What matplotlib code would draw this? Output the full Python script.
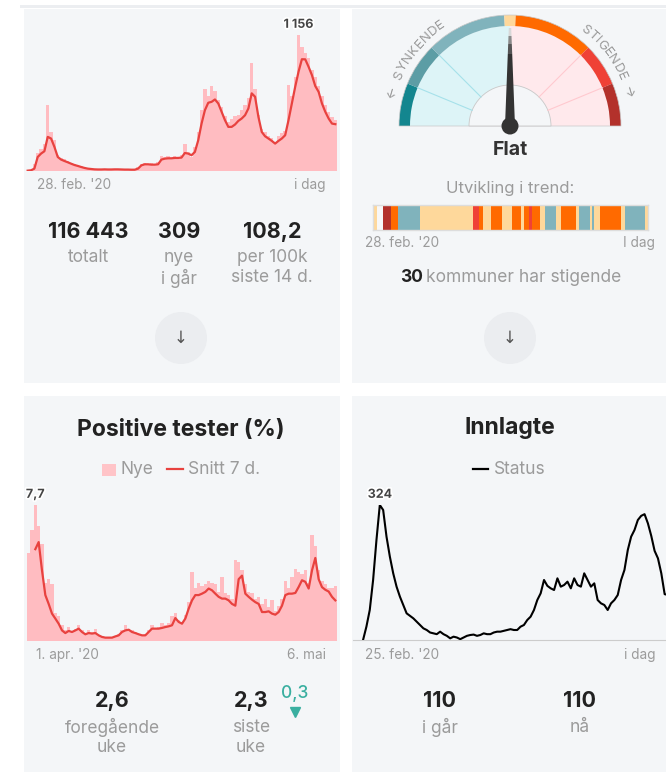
import matplotlib.pyplot as plt
import matplotlib.patheffects as pe
from matplotlib.patches import Rectangle, Wedge, Circle, Polygon
from matplotlib.textpath import TextPath
from matplotlib.font_manager import FontProperties
import numpy as np

plt.rcParams['font.family'] = ['Inter', 'DejaVu Sans']

W, H = 666, 773

# ---- data: bekreftede tilfeller (ca. hver 3. dag) ----
cases = [2, 10, 60, 150, 190, 230, 560, 330, 260, 140, 110, 100, 85, 70, 60, 45, 40, 30,
         22, 20, 15, 18, 12, 16, 14, 10, 17, 15, 12, 14, 10, 13, 15, 35, 60, 70, 50, 65,
         48, 80, 130, 115, 125, 100, 130, 105, 140, 230, 160, 120, 200, 330, 520, 700,
         640, 720, 680, 600, 540, 470, 420, 440, 470, 480, 520, 560, 620, 915, 700, 480,
         360, 330, 300, 280, 250, 300, 320, 340, 730, 640, 800, 1156, 1050, 1000, 960,
         860, 800, 720, 640, 560, 500, 460, 430]
cases_avg = [3, 6, 20, 119, 148, 168, 290, 276, 205, 119, 97, 85, 74, 62, 51, 43, 34, 26,
             20, 17, 14, 13, 13, 14, 13, 13, 14, 14, 13, 12, 12, 11, 11, 20, 48, 57, 57, 54,
             54, 57, 97, 105, 108, 108, 111, 111, 114, 153, 148, 134, 162, 261, 403, 517,
             580, 588, 608, 574, 503, 432, 375, 375, 395, 426, 446, 474, 531, 660, 631, 460,
             332, 295, 276, 256, 233, 256, 276, 304, 432, 574, 716, 844, 950, 949, 886,
             815, 722, 673, 574, 503, 446, 403, 398]

# ---- data: positive tester (%) ----
pos = [5.0, 6.3, 7.7, 6.5, 5.5, 3.3, 3.5, 3.2, 1.6, 1.4, 0.9, 0.6, 0.8, 0.5, 0.7, 0.9, 0.6,
       0.4, 0.6, 0.5, 0.7, 0.3, 0.3, 0.2, 0.25, 0.2, 0.3, 0.4, 0.6, 0.9, 0.7, 0.6, 0.5,
       0.4, 0.3, 0.4, 0.6, 0.9, 0.7, 0.8, 1.0, 0.9, 1.0, 1.4, 1.6, 1.2, 1.1, 1.5, 2.2, 3.9,
       3.0, 3.3, 3.1, 3.2, 3.4, 3.3, 3.2, 2.8, 3.6, 2.7, 2.6, 2.4, 4.6, 4.5, 4.0, 3.2, 2.8,
       2.7, 2.4, 2.5, 2.1, 2.4, 1.9, 2.3, 1.7, 2.0, 2.4, 3.4, 3.0, 3.6, 4.1, 3.9, 3.8, 4.0,
       3.3, 6.0, 5.4, 4.0, 3.4, 3.2, 3.0, 3.0, 3.1]
pos_avg = [np.nan, np.nan, 5.2, 5.6, 4.0, 2.6, 2.1, 1.55, 1.27, 0.98, 0.6, 0.45, 0.57, 0.51,
           0.6, 0.7, 0.51, 0.38, 0.45, 0.42, 0.45, 0.32, 0.23, 0.19, 0.19, 0.19, 0.26, 0.32,
           0.51, 0.6, 0.64, 0.51, 0.45, 0.38, 0.32, 0.32, 0.51, 0.7, 0.7, 0.7, 0.74, 0.79,
           0.83, 0.89, 1.3, 1.08, 0.98, 1.27, 1.83, 2.3, 2.6, 2.6, 2.68, 2.78, 2.97, 2.87,
           2.68, 2.5, 2.4, 2.4, 2.3, 2.1, 2.0, 3.5, 3.7, 2.68, 2.5, 2.34, 2.2, 2.1, 1.64,
           1.64, 1.68, 1.55, 1.49, 1.64, 2.0, 2.6, 2.68, 2.68, 2.72, 3.06, 3.44, 3.35, 2.97,
           4.0, 4.7, 3.5, 3.05, 2.9, 2.8, 2.5, 2.3]

# ---- data: innlagte ----
hosp = [0, 32, 72, 144, 240, 324, 312, 248, 200, 160, 128, 104, 84, 64, 58, 52, 44, 36,
        28, 24, 18, 16, 14, 20, 14, 10, 4, 8, 6, 2, 6, 10, 12, 13, 10, 12, 16, 14, 14, 18,
        20, 20, 22, 24, 26, 24, 24, 32, 36, 48, 56, 72, 96, 112, 144, 130, 124, 120, 148,
        128, 132, 140, 124, 148, 132, 128, 160, 144, 128, 136, 96, 88, 84, 72, 88, 96,
        108, 144, 168, 216, 248, 264, 288, 298, 302, 280, 250, 214, 196, 160, 110, 108]

# ---- data: trendutvikling ----
trend_len = [12, 17, 25, 21, 65, 160, 19, 11, 24, 33, 32, 25, 10, 15, 8, 25, 15, 32, 16,
             45, 8, 36, 6, 5, 17, 63, 12, 62, 8]
trend_cat = ['flat', 'none', 'sterk', 'opp', 'ned', 'flat', 'middels', 'opp', 'flat', 'opp',
             'flat', 'opp', 'flat', 'opp', 'middels', 'opp', 'flat', 'ned', 'flat', 'opp',
             'flat', 'ned', 'flat', 'ned', 'flat', 'opp', 'flat', 'ned', 'flat']
trend_colors = {'flat': '#FED89B', 'none': '#F7F7F7', 'sterk': '#B3312B',
                'middels': '#EF4136', 'opp': '#FF6A00', 'ned': '#80B3BC'}

needle_angle = 90  # flat

CARD = '#F4F6F8'
DARK = '#222222'
GREY = '#9B9B9B'
BAR = '#FFBCC1'
RED = '#E8423F'
NUM = 15.5
LAB = 12.5


def px_axes(fig, x0, y0, x1, y1):
    return fig.add_axes([x0 / W, 1 - y1 / H, (x1 - x0) / W, (y1 - y0) / H])


def fmt_int(v):
    return f"{int(round(v)):,}".replace(',', ' ')


def fmt_dec(v):
    return f"{v:.1f}".replace('.', ',')


fig = plt.figure(figsize=(W / 100, H / 100), dpi=100)
fig.patch.set_facecolor('white')

bg = fig.add_axes([0, 0, 1, 1])
bg.set_xlim(0, W)
bg.set_ylim(H, 0)
bg.axis('off')

bg.add_patch(Rectangle((20, 5), 646, 3, color='#ECEEF1', lw=0))
for (x0, y0, x1, y1) in [(24, 9, 340, 383), (352, 9, 668, 383),
                         (24, 396, 340, 772), (352, 396, 668, 772)]:
    bg.add_patch(Rectangle((x0, y0), x1 - x0, y1 - y0, color=CARD, lw=0))


def label(x, y, s, size=LAB, color=GREY, ha='center', weight='normal', va='center'):
    bg.text(x, y, s, ha=ha, va=va, fontsize=size, color=color, fontweight=weight)


halo = [pe.withStroke(linewidth=2.5, foreground='white')]

# ---------- kort 1: tilfeller ----------
ax1 = px_axes(fig, 26, 35, 337, 171)
x = np.arange(len(cases))
ax1.bar(x, cases, width=1.0, color=BAR, linewidth=0)
ax1.plot(x, cases_avg, color=RED, lw=1.6, solid_joinstyle='round')
ax1.set_xlim(-0.5, len(x) - 0.5)
ax1.set_ylim(0, max(cases))
ax1.axis('off')
i = int(np.argmax(cases))
ax1.annotate(fmt_int(cases[i]), (i, cases[i]), xytext=(0, 3), textcoords='offset points',
             ha='center', va='bottom', fontsize=9, fontweight='bold', color='#444444',
             path_effects=halo, annotation_clip=False)

label(37, 185, "28. feb. '20", size=9.8, ha='left')
label(325, 185, "i dag", size=9.8, ha='right')

label(88, 232, fmt_int(116443), size=NUM, color=DARK, weight='bold')
label(88, 258, "totalt")
label(179, 232, "309", size=NUM, color=DARK, weight='bold')
label(179, 258, "nye")
label(179, 278, "i går")
label(272, 232, fmt_dec(108.2), size=NUM, color=DARK, weight='bold')
label(272, 258, "per 100k")
label(272, 278, "siste 14 d.")

for cx in (181, 510):
    bg.add_patch(Circle((cx, 338), 26, color='#EBEDF0', lw=0))
    bg.text(cx, 338, "↓", ha='center', va='center', fontsize=12, color='#555555',
            family='DejaVu Sans')

# ---------- kort 2: trend / måler ----------
axg = px_axes(fig, 380, 5, 640, 165)
axg.set_xlim(-130, 130)
axg.set_ylim(-39, 121)
axg.axis('off')

axg.add_patch(Wedge((0, 0), 100, 90, 180, width=59, color='#DDF4F7', lw=0))
axg.add_patch(Wedge((0, 0), 100, 0, 90, width=59, color='#FFE9EC', lw=0))
for ang, col in [(157.5, '#A6E1EA'), (135, '#A6E1EA'), (45, '#FFC9CF'), (22.5, '#FFC9CF')]:
    t = np.deg2rad(ang)
    axg.plot([41 * np.cos(t), 100 * np.cos(t)], [41 * np.sin(t), 100 * np.sin(t)],
             color=col, lw=0.8)
bands = [(157.5, 180, '#13868F'), (135, 157.5, '#5C9DA5'), (93, 135, '#80B3BC'),
         (87, 93, '#FFD89B'), (45, 87, '#FF6A00'), (22.5, 45, '#EF4136'), (0, 22.5, '#B3312B')]
for t1, t2, col in bands:
    axg.add_patch(Wedge((0, 0), 111, t1, t2, width=11, color=col, lw=0))
axg.add_patch(Wedge((0, 0), 111, 0, 180, fill=False, ec='#C8C8C8', lw=0.5))
axg.add_patch(Wedge((0, 0), 41, 0, 180, fc=CARD, ec='#C8C8C8', lw=0.6))

# nål
t = np.deg2rad(needle_angle)
ux, uy = np.cos(t), np.sin(t)
px_, py_ = -uy, ux


def needle_part(r0, r1, col):
    w0 = 5 - 3.8 * r0 / 98
    w1 = 5 - 3.8 * r1 / 98
    pts = [(r0 * ux - w0 * px_, r0 * uy - w0 * py_), (r0 * ux + w0 * px_, r0 * uy + w0 * py_),
           (r1 * ux + w1 * px_, r1 * uy + w1 * py_), (r1 * ux - w1 * px_, r1 * uy - w1 * py_)]
    axg.add_patch(Polygon(pts, closed=True, color=col, lw=0))


needle_part(0, 72, '#333333')
needle_part(72, 82, '#555555')
needle_part(82, 90, '#8A8A8A')
needle_part(90, 98, '#D8D8D8')
axg.add_patch(Circle((0, 0), 8.5, color='#333333', lw=0))

ARC_PT = 9.5
arc_fp = FontProperties(family='Inter', size=ARC_PT)


def char_width(ch):
    # bredde i piksler (gauge-aksen er i piksler)
    if ch == ' ':
        return 4.0
    if ch in '←→':
        return 11.0
    tp = TextPath((0, 0), ch, prop=arc_fp)
    return tp.get_extents().width * 100 / 72


def arc_text(text, r, start=None, end=None, track=2.2):
    widths = [char_width(ch) + track for ch in text]
    total = np.rad2deg(sum(widths) / r)
    if start is None:
        start = end + total
    pos_ = 0.0
    for ch, w in zip(text, widths):
        th = np.deg2rad(start - np.rad2deg((pos_ + w / 2) / r))
        pos_ += w
        axg.text(r * np.cos(th), r * np.sin(th), ch, rotation=np.rad2deg(th) - 90,
                 rotation_mode='anchor', ha='center', va='center', fontsize=ARC_PT,
                 color='#999999', family=['Inter', 'DejaVu Sans'])


arc_text("← SYNKENDE", 122, start=167)
arc_text("STIGENDE →", 122, end=13)

label(510, 150, "Flat", size=14, color='#333333', weight='bold')
label(510, 188, "Utvikling i trend:", size=12)

axt = px_axes(fig, 373, 205, 648, 230)
left = np.concatenate([[0], np.cumsum(trend_len)[:-1]])
axt.barh(0, trend_len, left=left, height=1.0, color=[trend_colors[c] for c in trend_cat],
         linewidth=0)
axt.set_xlim(0, sum(trend_len))
axt.set_ylim(-0.5, 0.5)
axt.set_xticks([])
axt.set_yticks([])
for s in axt.spines.values():
    s.set_color('#DDDDDD')
    s.set_linewidth(1.0)

label(365, 243, "28. feb. '20", size=9.8, ha='left')
label(655, 243, "I dag", size=9.8, ha='right')
label(400, 278, "30", size=LAB, color=DARK, weight='bold', ha='left')
label(426, 278, "kommuner har stigende", size=LAB, ha='left')

# ---------- kort 3: positive tester ----------
label(181, 430, "Positive tester (%)", size=16.5, color=DARK, weight='bold')
bg.add_patch(Rectangle((102, 464), 14, 12, color='#FFC4C8', lw=0))
label(121, 470, "Nye", ha='left')
bg.plot([167, 183], [469, 469], color=RED, lw=1.6)
label(188, 470, "Snitt 7 d.", ha='left')

ax3 = px_axes(fig, 27, 505, 337, 641)
x3 = np.arange(len(pos))
ax3.bar(x3, pos, width=1.0, color=BAR, linewidth=0)
ax3.plot(x3, pos_avg, color=RED, lw=1.6, solid_joinstyle='round')
ax3.set_xlim(-0.5, len(x3) - 0.5)
ax3.set_ylim(0, max(pos))
ax3.axis('off')
i = int(np.argmax(pos))
ax3.annotate(fmt_dec(pos[i]), (i, pos[i]), xytext=(0, 3), textcoords='offset points',
             ha='center', va='bottom', fontsize=9, fontweight='bold', color='#444444',
             path_effects=halo, annotation_clip=False)

label(36, 655, "1. apr. '20", size=9.8, ha='left')
label(326, 655, "6. mai", size=9.8, ha='right')

label(112, 701, fmt_dec(2.6), size=NUM, color=DARK, weight='bold')
label(112, 727, "foregående")
label(112, 747, "uke")
label(251, 701, fmt_dec(2.3), size=NUM, color=DARK, weight='bold')
label(251, 727, "siste")
label(251, 747, "uke")
label(295, 693, fmt_dec(2.6 - 2.3), size=12.5, color='#3AAFA0', weight='medium')
bg.plot([295], [712], marker='v', ms=7, color='#3AAFA0', lw=0)

# ---------- kort 4: innlagte ----------
label(510, 428, "Innlagte", size=16.5, color=DARK, weight='bold')
bg.plot([473, 488], [469, 469], color='black', lw=1.6)
label(494, 470, "Status", ha='left')

ax4 = px_axes(fig, 353, 505, 667, 640)
x4 = np.arange(len(hosp))
ax4.axhline(0, color='#CCCCCC', lw=0.8, clip_on=False)
ax4.plot(x4, hosp, color='black', lw=1.5, solid_joinstyle='round')
ax4.set_xlim(-3, len(x4) - 1.3)
ax4.set_ylim(0, max(hosp))
ax4.axis('off')
i = int(np.argmax(hosp))
ax4.annotate(fmt_int(hosp[i]), (i, hosp[i]), xytext=(0, 3), textcoords='offset points',
             ha='center', va='bottom', fontsize=9, fontweight='bold', color='#444444',
             path_effects=halo, annotation_clip=False)

label(365, 655, "25. feb. '20", size=9.8, ha='left')
label(655, 655, "i dag", size=9.8, ha='right')

label(440, 701, fmt_int(110), size=NUM, color=DARK, weight='bold')
label(440, 727, "i går")
label(580, 701, fmt_int(110), size=NUM, color=DARK, weight='bold')
label(580, 727, "nå")

fig.savefig('out.png', dpi=100, facecolor='white')
